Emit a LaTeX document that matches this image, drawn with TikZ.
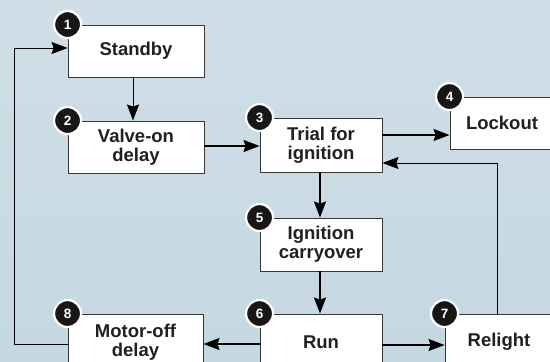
\documentclass[tikz,border=0pt]{standalone}
\usepackage{fontspec}
\setmainfont{Liberation Sans}
\usetikzlibrary{arrows.meta}
\definecolor{bgtop}{RGB}{208,222,231}
\definecolor{bgbot}{RGB}{196,216,226}
\definecolor{boxline}{RGB}{55,55,55}
\definecolor{txt}{RGB}{35,31,32}
\definecolor{badge}{RGB}{25,22,22}
\tikzset{
  statebox/.style={draw=boxline, line width=0.9pt, fill=white, inner sep=0pt,
    font=\fontsize{18.5}{19}\selectfont\bfseries, text=txt, align=center},
  numbadge/.style={circle, fill=badge, draw=white, line width=2.2pt, minimum size=27pt,
    inner sep=0pt, text=white, font=\fontsize{13.5}{14}\selectfont\bfseries},
  thick arrow/.style={draw=black, line width=1.6pt, -{Stealth[length=16pt,width=12pt,inset=2pt]}},
  thin arrow/.style={draw=black, line width=1pt, -{Stealth[length=16pt,width=12pt,inset=2pt]}},
}
\begin{document}
\begin{tikzpicture}[x=1pt,y=-1pt]
\useasboundingbox (0,0) rectangle (550,362);
\shade[top color=bgtop, bottom color=bgbot] (0,0) rectangle (550,362);
\clip (0,0) rectangle (550,362);
% boxes
\node[statebox, minimum width=136pt, minimum height=52pt] (standby) at (136,51) {Standby};
\node[statebox, minimum width=136pt, minimum height=52pt] (valve) at (136,147) {Valve-on\\delay};
\node[statebox, minimum width=122pt, minimum height=54pt] (trial) at (321,145) {Trial for\\ignition};
\node[statebox, minimum width=104pt, minimum height=52pt] (lockout) at (502,123) {Lockout};
\node[statebox, minimum width=122pt, minimum height=53pt] (ign) at (321,244.5) {Ignition\\carryover};
\node[statebox, minimum width=122pt, minimum height=56pt] (run) at (321,342) {Run};
\node[statebox, minimum width=108pt, minimum height=56pt] (relight) at (499,342) {Relight};
\node[statebox, minimum width=135pt, minimum height=56pt] (motor) at (135.5,342) {Motor-off\\delay};
% badges
\node[numbadge] (n1) at (standby.north west) {1};
\node[numbadge] (n2) at (valve.north west) {2};
\node[numbadge] (n3) at (trial.north west) {3};
\node[numbadge] (n4) at (lockout.north west) {4};
\node[numbadge] (n5) at (ign.north west) {5};
\node[numbadge] (n6) at (run.north west) {6};
\node[numbadge] (n7) at (relight.north west) {7};
\node[numbadge] (n8) at (motor.north west) {8};
% connectors
\coordinate (c1) at (14,344);
\coordinate (c2) at (14,48);
\coordinate (c3) at (497,163);
\draw[thin arrow] ([xshift=-3pt]standby.south) -- ([xshift=-3pt]valve.north);
\draw[thick arrow] ([yshift=1pt]valve.east) -- ([yshift=1pt]valve.east -| trial.west);
\draw[thick arrow] ([yshift=10pt]trial.east) -- ([yshift=10pt]trial.east -| lockout.west);
\draw[thick arrow] ([xshift=-1pt]trial.south) -- ([xshift=-1pt]ign.north);
\draw[thick arrow] ([xshift=-1pt]ign.south) -- ([xshift=-1pt]run.north);
\draw[thick arrow] ([yshift=-2pt]run.west) -- ([yshift=-2pt]run.west -| motor.east);
\draw[thick arrow] ([yshift=-3pt]run.east) -- ([yshift=-3pt]run.east -| relight.west);
\draw[thin arrow] (c3 |- relight.north) -- (c3) -- (c3 -| trial.east);
\draw[thin arrow] (c1 -| motor.west) -- (c1) -- (c2) -- (c2 -| standby.west);
\end{tikzpicture}
\end{document}
